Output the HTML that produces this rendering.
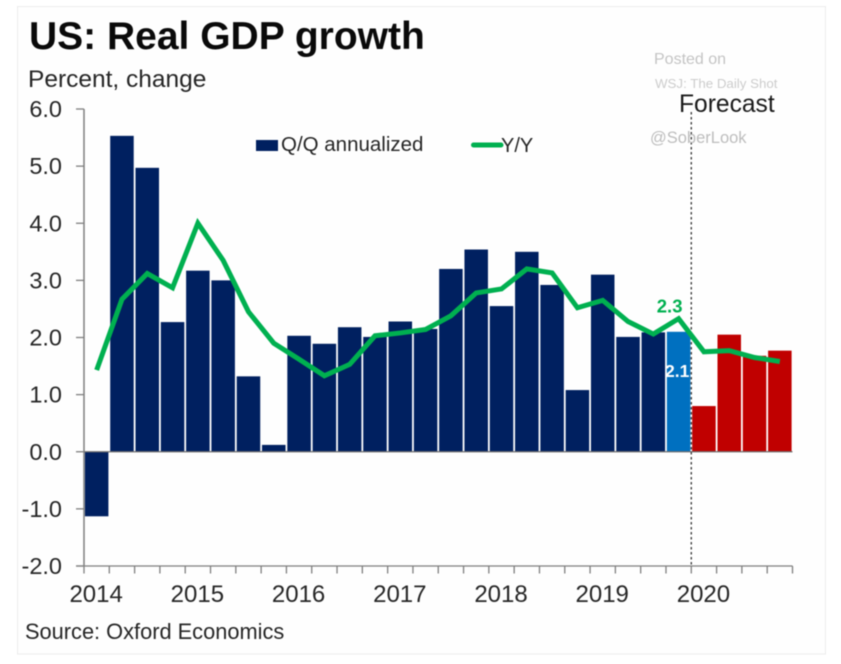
<!DOCTYPE html>
<html lang="en">
<head>
<meta charset="utf-8">
<title>US: Real GDP growth</title>
<style>
html,body{margin:0;padding:0;background:#fff;width:841px;height:664px;overflow:hidden}
svg{display:block;filter:blur(0.55px)}
text{font-family:"Liberation Sans",Arial,sans-serif}
</style>
</head>
<body>
<svg id="chart" xmlns="http://www.w3.org/2000/svg" width="841" height="664" viewBox="0 0 841 664">
  <rect x="17.5" y="6.5" width="808" height="647.5" fill="#fefefe" stroke="#ececec" stroke-width="1"/>
  <text x="29" y="49" font-size="39" font-weight="bold" fill="#0a0a0a">US: Real GDP growth</text>
  <text x="28" y="87" font-size="24.5" fill="#262626">Percent, change</text>
  <g id="bars"></g>
  <g id="axes"></g>
  <line id="forecast-line" stroke="#404040" stroke-width="1.4" stroke-dasharray="2.5 2.5"/>
  <polyline id="yy-line" fill="none" stroke="#00B050" stroke-width="5" stroke-linejoin="miter"/>
  <rect x="256" y="140" width="22" height="11" fill="#002060"/>
  <text x="281" y="151" font-size="20.5" fill="#262626">Q/Q annualized</text>
  <line x1="473.5" y1="145" x2="501" y2="145" stroke="#00B050" stroke-width="5" stroke-linecap="round"/>
  <text x="501" y="152" font-size="20" fill="#262626">Y/Y</text>
  <text x="654" y="64" font-size="16" fill="#c4c4c4">Posted on</text>
  <text x="655" y="88" font-size="13.3" fill="#cccccc">WSJ: The Daily Shot</text>
  <text x="679" y="112" font-size="24.6" fill="#1a1a1a">Forecast</text>
  <text x="650" y="143" font-size="16.5" fill="#bdbdbd">@SoberLook</text>
  <text id="yy-value" text-anchor="middle" font-size="18.5" font-weight="bold" fill="#00B050">2.3</text>
  <text id="qq-value" text-anchor="middle" font-size="17.5" font-weight="bold" fill="#ffffff">2.1</text>
  <text x="25" y="639" font-size="21.8" fill="#262626">Source: Oxford Economics</text>
</svg>
<script>
const yearLabels = ["2014", "2015", "2016", "2017", "2018", "2019", "2020"];
const yTicks = [6, 5, 4, 3, 2, 1, 0, -1, -2];
const qqValues = [-1.13, 5.53, 4.97, 2.27, 3.17, 3.0, 1.32, 0.12, 2.03, 1.89, 2.18, 2.01, 2.28, 2.15, 3.2, 3.54, 2.55, 3.5, 2.92, 1.08, 3.1, 2.01, 2.09, 2.1, 0.8, 2.05, 1.68, 1.77];
const yyValues = [1.43, 2.67, 3.12, 2.87, 4.0, 3.35, 2.45, 1.9, 1.62, 1.33, 1.53, 2.03, 2.08, 2.14, 2.38, 2.78, 2.85, 3.2, 3.13, 2.52, 2.65, 2.28, 2.06, 2.33, 1.75, 1.77, 1.65, 1.58];
const lastActualIndex = 23;
const labelYy = 2.3;
const labelQq = 2.1;

const NS = "http://www.w3.org/2000/svg";
const plot = { left: 84, right: 792.5, top: 109, bottom: 566 };
const quarterCount = qqValues.length;
const step = (plot.right - plot.left) / quarterCount;
const yMax = yTicks[0];
const yMin = yTicks[yTicks.length - 1];

function xEdge(i) { return plot.left + i * step; }
function xCenter(i) { return xEdge(i) + step / 2; }
function yScale(v) { return plot.top + (yMax - v) * (plot.bottom - plot.top) / (yMax - yMin); }

function make(tag, attrs, parent) {
  const el = document.createElementNS(NS, tag);
  for (const k in attrs) el.setAttribute(k, attrs[k]);
  parent.appendChild(el);
  return el;
}

const barsG = document.getElementById("bars");
const axesG = document.getElementById("axes");

qqValues.forEach(function (v, i) {
  const y0 = yScale(0);
  const yv = yScale(v);
  const fill = i < lastActualIndex ? "#002060" : (i === lastActualIndex ? "#0070C0" : "#C00000");
  const bar = make("rect", { x: xEdge(i) + 0.9, y: Math.min(y0, yv), width: step - 1.8, height: Math.abs(y0 - yv), fill: fill }, barsG);
  
  
});

const yAxis = make("line", { x1: plot.left, y1: plot.top, x2: plot.left, y2: plot.bottom, stroke: "#7f7f7f", "stroke-width": 1.5 }, axesG);



const zeroLine = make("line", { x1: plot.left, y1: yScale(0), x2: plot.right, y2: yScale(0), stroke: "#6f6f6f", "stroke-width": 1.3 }, axesG);



const xAxis = make("line", { x1: plot.left - 8, y1: plot.bottom, x2: plot.right, y2: plot.bottom, stroke: "#7f7f7f", "stroke-width": 1.3 }, axesG);



yTicks.forEach(function (t) {
  const y = yScale(t);
  const tick = make("line", { x1: plot.left - 8, y1: y, x2: plot.left, y2: y, stroke: "#7f7f7f", "stroke-width": 1.3 }, axesG);
  
  
  const label = make("text", { x: 62, y: y + 8, "text-anchor": "end", "font-size": 23.5, fill: "#262626" }, axesG);
  label.textContent = t.toFixed(1);
  
  
});

for (let i = 0; i <= quarterCount; i++) {
  const tick = make("line", { x1: xEdge(i), y1: plot.bottom, x2: xEdge(i), y2: plot.bottom + 7.5, stroke: "#7f7f7f", "stroke-width": 1.3 }, axesG);
  
  
}

yearLabels.forEach(function (yr, i) {
  const label = make("text", { x: xCenter(i * 4) - 0.5, y: 602, "text-anchor": "middle", "font-size": 24, fill: "#262626" }, axesG);
  label.textContent = yr;
  
  
});

document.getElementById("yy-line").setAttribute("points", yyValues.map(function (v, i) {
  return xCenter(i).toFixed(2) + "," + yScale(v).toFixed(2);
}).join(" "));

const fl = document.getElementById("forecast-line");
fl.setAttribute("x1", xEdge(lastActualIndex + 1));
fl.setAttribute("x2", xEdge(lastActualIndex + 1));
fl.setAttribute("y1", 112);
fl.setAttribute("y2", plot.bottom);

const yyLabel = document.getElementById("yy-value");
yyLabel.textContent = labelYy.toFixed(1);
yyLabel.setAttribute("x", xCenter(lastActualIndex) - 9);
yyLabel.setAttribute("y", yScale(labelYy) - 8);

const qqLabel = document.getElementById("qq-value");
qqLabel.textContent = labelQq.toFixed(1);
qqLabel.setAttribute("x", xCenter(lastActualIndex) - 1.5);
qqLabel.setAttribute("y", yScale(labelQq) + 45);
</script>
</body>
</html>
